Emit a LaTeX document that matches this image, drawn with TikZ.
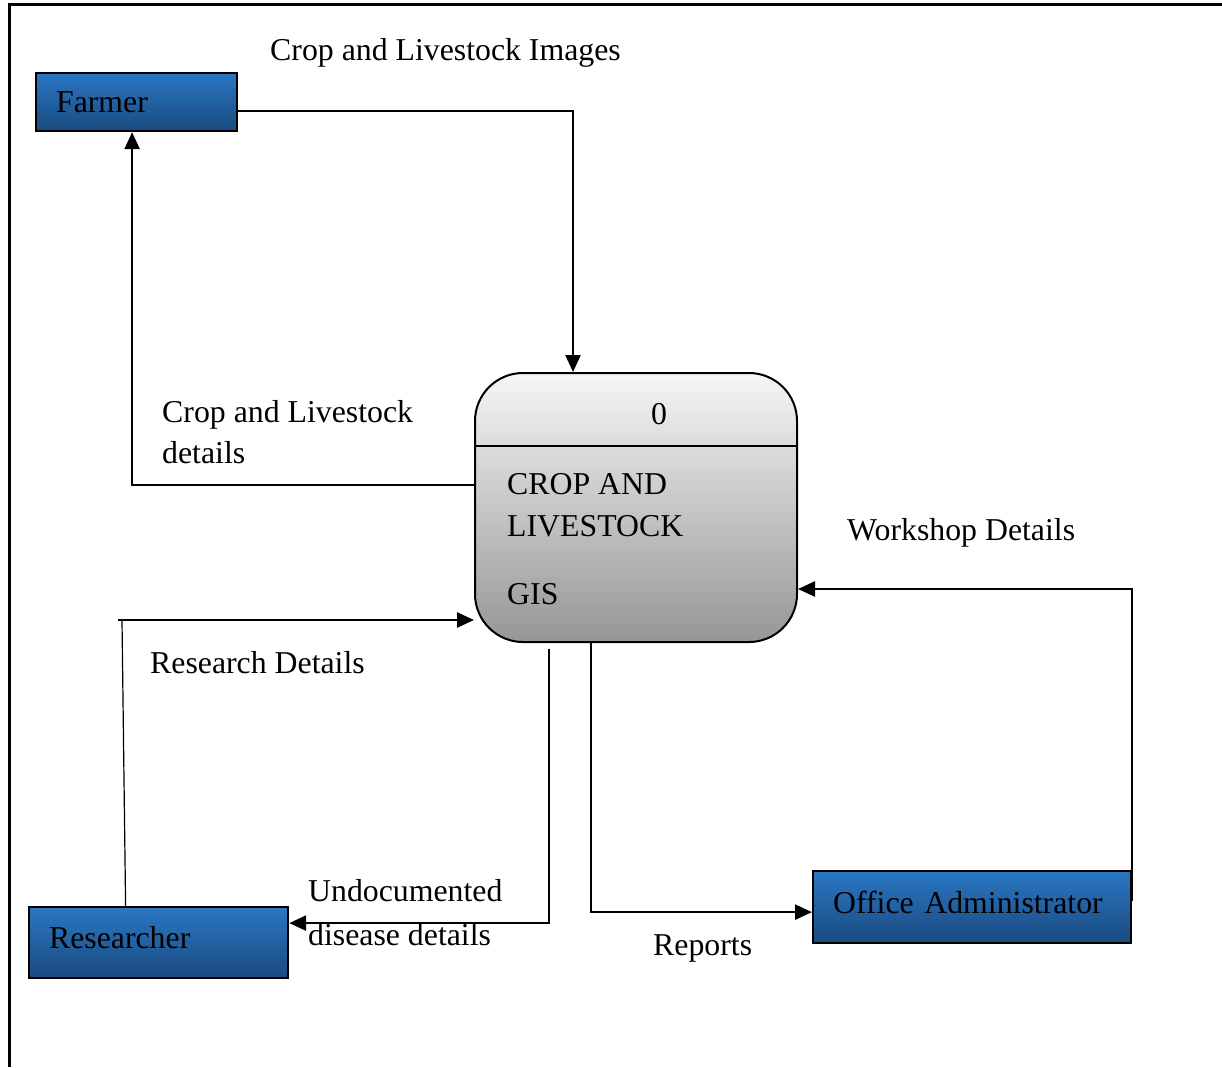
\documentclass[tikz,border=0pt]{standalone}
\usepackage{fontspec}
\setmainfont{Liberation Serif}
\usetikzlibrary{arrows.meta}
\definecolor{entitytop}{HTML}{2A77C3}
\definecolor{entitybottom}{HTML}{1A4A7F}
\definecolor{proctop}{HTML}{F6F6F6}
\definecolor{procbottom}{HTML}{969696}
\begin{document}
\begin{tikzpicture}[x=1pt,y=-1pt,
  font=\fontsize{31.8}{42}\selectfont,
  entity/.style={draw=black, line width=2.2pt, top color=entitytop, bottom color=entitybottom,
    anchor=north west, inner xsep=20pt, inner ysep=0pt, align=left, text=black},
  process/.style={draw=black, line width=2pt, top color=proctop, bottom color=procbottom,
    rounded corners=48pt, anchor=north west, inner sep=0pt},
  flow/.style={line width=2.5pt, -{Triangle[length=17pt,width=15pt]}},
  thinflow/.style={line width=1.2pt},
  lbl/.style={anchor=base west, inner sep=0pt, align=left}
]
\useasboundingbox (0,0) rectangle (1222,1067);
% page frame
\draw[line width=3pt] (9,1067) -- (9,5) -- (1222,5);

% external entities
\node[entity, minimum width=201pt, minimum height=58pt, text width=161pt] (farmer) at (35,72) {Farmer};
\node[entity, minimum width=259pt, minimum height=71pt, text width=219pt] (researcher) at (28,906) {\raisebox{10pt}{Researcher}};
\node[entity, minimum width=318pt, minimum height=72pt, text width=278pt] (office) at (812,870) {\raisebox{10pt}{Office Administrator}};

% central process
\node[process, minimum width=322pt, minimum height=269pt] (proc) at (474,372) {};
\draw[line width=2pt] (474,446) -- (796,446);
\node[anchor=base, inner sep=0pt] (pnum) at (659,424) {0};
\node[lbl] (pname1) at (507,494) {CROP AND};
\node[lbl] (pname2) at (507,536) {LIVESTOCK};
\node[lbl] (pname3) at (507,604) {GIS};

% data flows
\draw[flow] ([yshift=-9pt]farmer.east) -| ([xshift=-63pt]proc.north);
\draw[flow] ([yshift=22.5pt]proc.west) -| ([xshift=-4.5pt]farmer.south);
\coordinate (rcorner) at (122,620);
\draw[thinflow] ([xshift=-33pt]researcher.north) -- (rcorner);
\draw[flow] ([xshift=-4pt]rcorner) -- (proc.west |- rcorner);
\draw[flow] ([xshift=-87pt,yshift=-6pt]proc.south) |- ([yshift=19.5pt]researcher.east);
\draw[flow] ([xshift=-45pt]proc.south) |- ([yshift=-5pt]office.west);
\draw[flow] ([yshift=6pt]office.east) |- ([yshift=-81.5pt]proc.east);

% flow labels
\node[lbl] (limages) at (270,61) {Crop and Livestock Images};
\node[lbl] (ldetails1) at (162,422) {Crop and Livestock};
\node[lbl] (ldetails2) at (162,463) {details};
\node[lbl] (lworkshop) at (847,540) {Workshop Details};
\node[lbl] (lresearch) at (150,673) {Research Details};
\node[lbl] (lundoc1) at (308,901) {Undocumented};
\node[lbl] (lundoc2) at (308,945) {disease details};
\node[lbl] (lreports) at (653,955) {Reports};
\end{tikzpicture}
\end{document}
